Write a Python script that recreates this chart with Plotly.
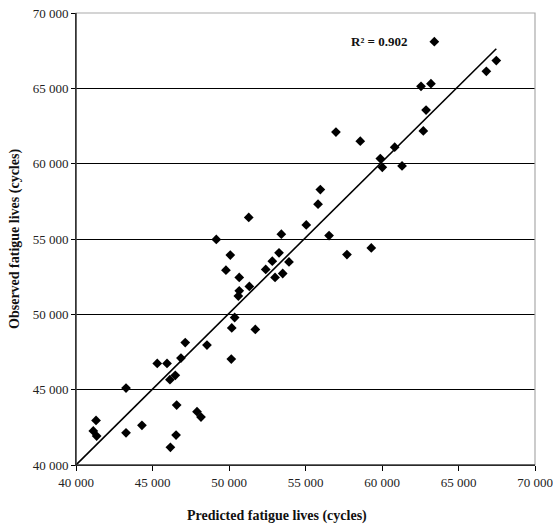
import plotly.graph_objects as go

predicted = [49170, 51290, 53420, 55050, 63420, 67470, 66820, 62550, 63200, 62880,
             62700, 56990, 58580, 60830, 59890, 60020, 61310, 55970, 55820, 56540,
             59300, 57710, 50085, 49800, 50670, 50670, 50610, 51330, 52400, 52830,
             53270, 53010, 53510, 53920, 50370, 50180, 51720, 50150, 48560, 47140,
             46860, 45310, 45950, 46490, 46140, 43270, 46580, 47910, 48170, 41310,
             41130, 41350, 43270, 44310, 46540, 46170]
observed = [54970, 56430, 55320, 55935, 68100, 66840, 66130, 65130, 65310, 63560,
            62170, 62100, 61490, 61090, 60340, 59760, 59850, 58280, 57310, 55230,
            54410, 53970, 53930, 52930, 52450, 51560, 51210, 51850, 52980, 53530,
            54080, 52450, 52710, 53480, 49790, 49100, 49000, 47030, 47960, 48130,
            47100, 46740, 46740, 45950, 45660, 45110, 43980, 43540, 43180, 42960,
            42260, 41920, 42140, 42630, 41990, 41170]
trend_x = [40000, 67470]
trend_y = [40000, 67630]
r2_text = "R² = 0.902"
x_title = "Predicted fatigue lives (cycles)"
y_title = "Observed fatigue lives (cycles)"

fig = go.Figure()
fig.add_trace(go.Scatter(x=trend_x, y=trend_y, mode="lines",
                         line=dict(color="black", width=1.6), hoverinfo="skip"))
fig.add_trace(go.Scatter(x=predicted, y=observed, mode="markers",
                         marker=dict(symbol="diamond", size=7.5, color="black")))

serif = "Liberation Serif, Times New Roman, serif"
fig.update_layout(
    width=553, height=528,
    margin=dict(l=76, r=18, t=13, b=63),
    paper_bgcolor="white", plot_bgcolor="white",
    showlegend=False,
    separators=". ",
    font=dict(family=serif, size=13, color="#222"),
    xaxis=dict(range=[40000, 70000], dtick=5000, tickformat=",d", automargin=False,
               showgrid=False, zeroline=False, ticklabeloverflow="allow",
               showline=True, linecolor="black", linewidth=1,
               ticks="outside", ticklen=5, tickcolor="black",
               tickfont=dict(family=serif, size=13, color="#222")),
    yaxis=dict(range=[40000, 70000], dtick=5000, tickformat=",d", automargin=False,
               showgrid=True, gridcolor="black", gridwidth=1, zeroline=False,
               ticklabeloverflow="allow",
               showline=True, linecolor="black", linewidth=1,
               ticks="outside", ticklen=4, tickcolor="black",
               tickfont=dict(family=serif, size=13, color="#222")),
    shapes=[dict(type="rect", xref="paper", yref="paper", x0=0, x1=1, y0=0, y1=1,
                 line=dict(color="#aaaaaa", width=1.2), layer="above")],
    annotations=[
        dict(text="<b>" + r2_text + "</b>", x=0.66, y=68100, xref="paper", yref="y",
             xanchor="center", yanchor="middle",
             showarrow=False, font=dict(family=serif, size=13, color="#111")),
        dict(text="<b>" + x_title + "</b>", x=0.438, y=-0.113, xref="paper", yref="paper",
             xanchor="center", yanchor="middle",
             showarrow=False, font=dict(family=serif, size=14, color="#111")),
        dict(text="<b>" + y_title + "</b>", x=-0.133, y=0.5, xref="paper", yref="paper",
             xanchor="center", yanchor="middle",
             showarrow=False, textangle=-90, font=dict(family=serif, size=14, color="#111")),
    ],
)
fig.add_shape(type="line", xref="paper", yref="paper", x0=0, x1=0, y0=0, y1=1,
              line=dict(color="black", width=1), layer="above")
fig.add_shape(type="line", xref="paper", yref="paper", x0=0, x1=1, y0=0, y1=0,
              line=dict(color="black", width=1), layer="above")

fig.write_html("out.html", config={"displayModeBar": False},
               post_script="document.body.style.margin='0';")
